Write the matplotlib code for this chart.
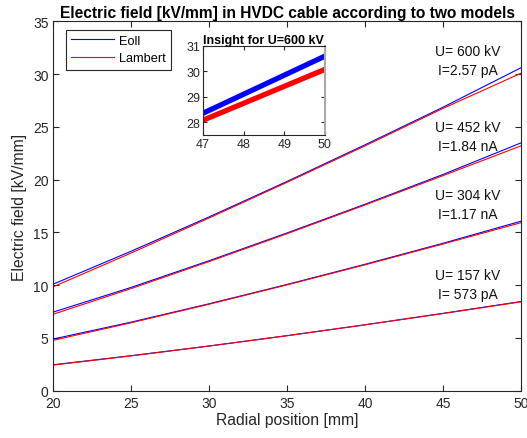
import numpy as np
import matplotlib
matplotlib.use("Agg")
import matplotlib.pyplot as plt

plt.rcParams['font.family'] = ['Liberation Sans', 'DejaVu Sans']

# radial positions [mm]
r = [20, 25, 30, 35, 40, 45, 50]

# electric field [kV/mm]
eoll_600 = [10.10, 13.22, 16.47, 19.83, 23.30, 26.86, 30.60]
lamb_600 = [9.85, 13.05, 16.37, 19.75, 23.20, 26.75, 30.08]
eoll_452 = [7.45, 9.79, 12.32, 14.95, 17.67, 20.49, 23.48]
lamb_452 = [7.25, 9.68, 12.24, 14.88, 17.60, 20.38, 23.20]
eoll_304 = [4.90, 6.50, 8.24, 10.07, 11.98, 13.97, 16.06]
lamb_304 = [4.78, 6.44, 8.20, 10.03, 11.93, 13.90, 15.92]
eoll_157 = [2.46, 3.32, 4.24, 5.22, 6.25, 7.33, 8.45]
lamb_157 = [2.43, 3.30, 4.23, 5.21, 6.24, 7.31, 8.42]

eoll = [eoll_600, eoll_452, eoll_304, eoll_157]
lamb = [lamb_600, lamb_452, lamb_304, lamb_157]

notes = ["U= 600 kV\nI=2.57 pA", "U= 452 kV\nI=1.84 nA",
         "U= 304 kV\nI=1.17 nA", "U= 157 kV\nI= 573 pA"]
note_y = [31.3, 24.1, 17.6, 10.1]

fig = plt.figure(figsize=(5.27, 4.39), dpi=100)
ax = fig.add_axes([0.1011, 0.1077, 0.8875, 0.8415])

for i in range(len(eoll)):
    ax.plot(r, eoll[i], color='blue', lw=0.8, label='Eoll' if i == 0 else None)
    ax.plot(r, lamb[i], color='red', lw=0.8, label='Lambert' if i == 0 else None)

for txt, y in zip(notes, note_y):
    ax.text(46.6, y, txt, ha='center', va='center', fontsize=10,
            linespacing=1.45, color='#111111')

ax.set_xlim(20, 50)
ax.set_ylim(0, 35)
ax.set_xticks(np.arange(20, 51, 5))
ax.set_yticks(np.arange(0, 36, 5))
ax.tick_params(direction='in', top=True, right=True, labelsize=10,
               colors='#262626', length=4)
for s in ax.spines.values():
    s.set_color('#262626')
    s.set_linewidth(0.8)
ax.set_xlabel('Radial position [mm]', fontsize=11.3, color='#262626', labelpad=2)
ax.set_ylabel('Electric field [kV/mm]', fontsize=11.3, color='#262626', labelpad=4)
ax.set_title('Electric field [kV/mm] in HVDC cable according to two models',
             fontsize=11.2, fontweight='bold', pad=3)

leg = ax.legend(loc='upper left', bbox_to_anchor=(0.018, 0.988), fontsize=9.2,
                handlelength=3.4, fancybox=False, framealpha=1,
                edgecolor='#262626', borderpad=0.4, labelspacing=0.45,
                handletextpad=0.4, borderaxespad=0.3)
leg.get_frame().set_linewidth(0.8)

# inset
axi = fig.add_axes([0.385, 0.690, 0.2315, 0.203])
axi.plot(r, eoll_600, color='blue', lw=3.8)
axi.plot(r, lamb_600, color='red', lw=3.8)
axi.set_xlim(47, 50)
axi.set_ylim(27.5, 31)
axi.set_xticks([47, 48, 49, 50])
axi.set_yticks([28, 29, 30, 31])
axi.tick_params(direction='in', top=True, right=True, labelsize=9,
                colors='#262626', length=3, pad=2)
for s in axi.spines.values():
    s.set_color('#262626')
    s.set_linewidth(0.8)
axi.spines['right'].set_color('#aaaaaa')
axi.spines['right'].set_linewidth(1.5)
axi.set_title('Insight for U=600 kV', fontsize=9, fontweight='bold', pad=2)

fig.savefig('out.png', dpi=100)
